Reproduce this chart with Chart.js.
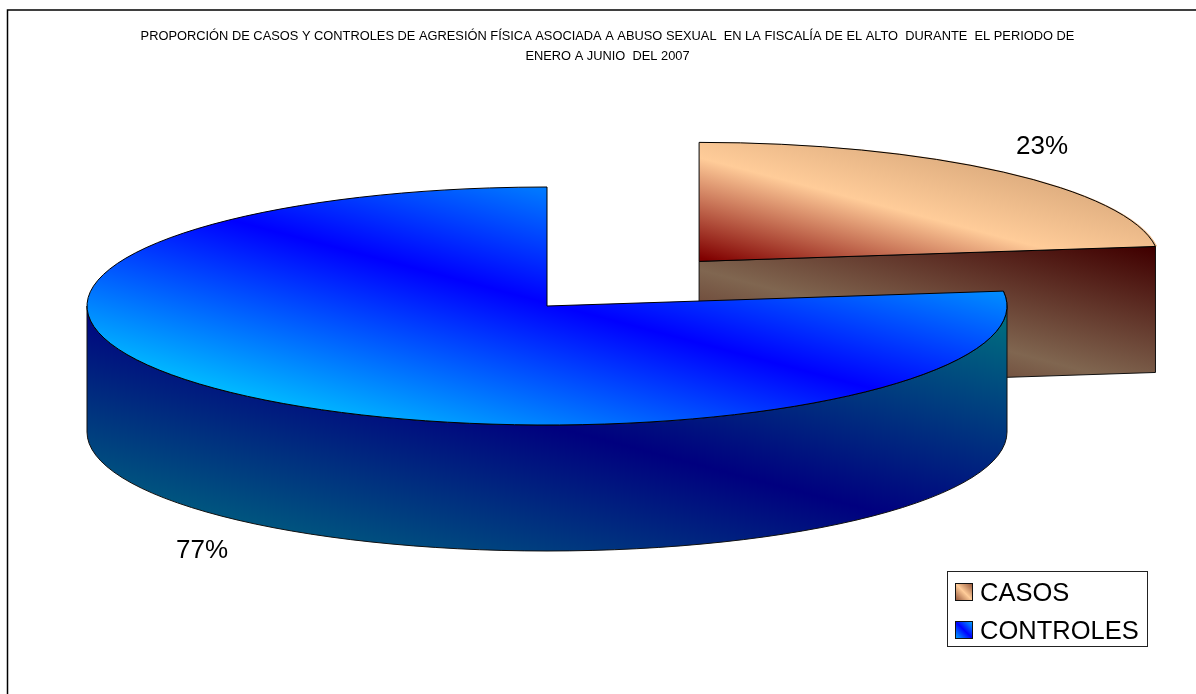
<!DOCTYPE html>
<html>
<head>
<meta charset="utf-8">
<title>Casos y controles</title>
<script src="https://cdn.jsdelivr.net/npm/chart.js@4/dist/chart.umd.min.js"></script>
<style>
    html, body { margin: 0; padding: 0; background: #fff; }
    canvas { display: block; }
</style>
</head>
<body>
<canvas id="chart" width="1196" height="694"></canvas>
<script>
// Datos
const categorias = ['CASOS', 'CONTROLES'];
const porcentajes = [23, 77];
const tituloLineas = [
    'PROPORCIÓN DE CASOS Y CONTROLES DE AGRESIÓN FÍSICA ASOCIADA A ABUSO SEXUAL  EN LA FISCALÍA DE EL ALTO  DURANTE  EL PERIODO DE',
    'ENERO A JUNIO  DEL 2007',
];

// Geometría de la torta en perspectiva
const RADIO = 460;
const APLASTADO = 119 / 460;
const CENTRO_X = 547;
const CENTRO_Y = 306;
const ALTURA = 126;
// Chart.js desplaza el sector offset / 4
const SEPARACION = 230 * 4;
const PENDIENTE = 0.263;
const FUENTE = '"Liberation Sans", Arial, sans-serif';

// Pasa de pantalla a las coordenadas de la torta antes de aplastarla
function aTorta(chart, x, y) {
    const a = chart.chartArea;
    return [
        x - CENTRO_X + (a.left + a.right) / 2,
        (y - CENTRO_Y) / APLASTADO + (a.top + a.bottom) / 2,
    ];
}

function aPantalla(chart, x, y) {
    const a = chart.chartArea;
    return [
        x + CENTRO_X - (a.left + a.right) / 2,
        (y - (a.top + a.bottom) / 2) * APLASTADO + CENTRO_Y,
    ];
}

// Degradado en bandas inclinadas: "eje" es un punto de la banda central en pantalla,
// "alcance" la distancia vertical desde ese punto hasta los extremos
function bandas(ctx, eje, alcance, arriba, centro, abajo, escala, mapa) {
    const s = PENDIENTE / escala;
    const n = 1 + s * s;
    const [x, y] = mapa(eje[0], eje[1]);
    const dx = (-s * alcance / escala) / n;
    const dy = (alcance / escala) / n;
    const g = ctx.createLinearGradient(x - dx, y - dy, x + dx, y + dy);
    g.addColorStop(0, arriba);
    g.addColorStop(0.5, centro);
    g.addColorStop(1, abajo);
    return g;
}

const sinMapa = (x, y) => [x, y];

function colorCara(context) {
    const chart = context.chart;
    if (!chart.chartArea) return '#ffcc99';
    // El relleno se aplica con el sector ya desplazado: el degradado va sin ese desplazamiento
    const mapa = (x, y) => aTorta(chart, x, y);
    if (context.dataIndex === 0) {
        const medio = -Math.PI / 2 + Math.PI * porcentajes[0] / 100;
        const d = SEPARACION / 4;
        const eje = [860 - Math.cos(medio) * d, 200 - Math.sin(medio) * d * APLASTADO];
        return bandas(chart.ctx, eje, 100, '#d0a074', '#ffcc99', '#800000', APLASTADO, mapa);
    }
    return bandas(chart.ctx, [543, 302], 220, '#00edff', '#0000ff', '#00edff', APLASTADO, mapa);
}

const torta3d = {
    id: 'torta3d',
    beforeDraw(chart) {
        const ctx = chart.ctx;
        ctx.save();
        ctx.fillStyle = '#fff';
        ctx.fillRect(0, 0, chart.width, chart.height);
        // Marco: solo arriba y a la izquierda
        ctx.strokeStyle = '#000';
        ctx.lineWidth = 1.5;
        ctx.beginPath();
        ctx.moveTo(7.5, chart.height);
        ctx.lineTo(7.5, 9.9);
        ctx.lineTo(chart.width, 9.9);
        ctx.stroke();
        ctx.restore();
    },
    beforeDatasetsDraw(chart) {
        const ctx = chart.ctx;
        const arcos = chart.getDatasetMeta(0).data;
        const a = chart.chartArea;
        const centros = arcos.map(arco => this.centro(chart, arco));

        // Cara del corte del sector separado
        const [cx0, cy0] = centros[0];
        const fin0 = arcos[0].endAngle;
        const bx = cx0 + RADIO * Math.cos(fin0);
        const by = cy0 + RADIO * APLASTADO * Math.sin(fin0);
        ctx.save();
        ctx.lineWidth = 1;
        ctx.strokeStyle = '#111';
        ctx.beginPath();
        ctx.moveTo(cx0, cy0);
        ctx.lineTo(bx, by);
        ctx.lineTo(bx, by + ALTURA);
        ctx.lineTo(cx0, cy0 + ALTURA);
        ctx.closePath();
        ctx.fillStyle = bandas(ctx, [860, 312], 140, '#400000', '#806650', '#400000', 1, sinMapa);
        ctx.fill();
        ctx.stroke();

        // Pared curva del sector grande
        const [cx1, cy1] = centros[1];
        const ini1 = arcos[1].startAngle;
        ctx.beginPath();
        ctx.ellipse(cx1, cy1, RADIO, RADIO * APLASTADO, 0, ini1, Math.PI);
        ctx.ellipse(cx1, cy1 + ALTURA, RADIO, RADIO * APLASTADO, 0, Math.PI, 0, true);
        ctx.lineTo(cx1 + RADIO, cy1);
        ctx.closePath();
        ctx.fillStyle = bandas(ctx, [543, 424], 240, '#00747f', '#00007f', '#00747f', 1, sinMapa);
        ctx.fill();
        ctx.stroke();
        ctx.restore();

        // Las caras superiores las dibuja la librería con el contexto aplastado
        ctx.save();
        ctx.translate(CENTRO_X, CENTRO_Y);
        ctx.scale(1, APLASTADO);
        ctx.translate(-(a.left + a.right) / 2, -(a.top + a.bottom) / 2);
    },
    afterDatasetsDraw(chart) {
        const ctx = chart.ctx;
        ctx.restore();
        const arcos = chart.getDatasetMeta(0).data;

        // Contorno de las caras superiores
        ctx.save();
        ctx.lineWidth = 1;
        ctx.strokeStyle = '#000';
        arcos.forEach(arco => {
            const [cx, cy] = this.centro(chart, arco);
            ctx.beginPath();
            ctx.moveTo(cx, cy);
            ctx.ellipse(cx, cy, RADIO, RADIO * APLASTADO, 0, arco.startAngle, arco.endAngle);
            ctx.closePath();
            ctx.stroke();
        });

        // Porcentajes
        ctx.fillStyle = '#000';
        ctx.font = '26px ' + FUENTE;
        ctx.textAlign = 'center';
        ctx.textBaseline = 'alphabetic';
        ctx.fillText(porcentajes[0] + '%', 1042, 154);
        ctx.fillText(porcentajes[1] + '%', 202, 558);

        // Leyenda
        ctx.fillStyle = '#fff';
        ctx.fillRect(947, 571, 201, 76);
        ctx.strokeStyle = '#222';
        ctx.strokeRect(947.5, 571.5, 200, 75);
        categorias.forEach((nombre, i) => {
            const y = 583 + i * 38;
            const g = ctx.createLinearGradient(955, y + 18, 973, y);
            if (i === 0) {
                g.addColorStop(0, '#8a4a30');
                g.addColorStop(0.5, '#ffcc99');
                g.addColorStop(1, '#8a4a30');
            } else {
                g.addColorStop(0, '#00b4ff');
                g.addColorStop(0.5, '#0000ff');
                g.addColorStop(1, '#00b4ff');
            }
            ctx.fillStyle = g;
            ctx.fillRect(955, y, 18, 17);
            ctx.strokeStyle = '#111';
            ctx.strokeRect(955.5, y + 0.5, 17, 17);
            ctx.fillStyle = '#000';
            ctx.textAlign = 'left';
            ctx.font = '25.5px ' + FUENTE;
            ctx.fillText(nombre, 980, y + 18);
        });
        ctx.restore();
    },
    // Centro de un sector en pantalla, contando su separación
    centro(chart, arco) {
        const medio = (arco.startAngle + arco.endAngle) / 2;
        const d = (arco.options.offset || 0) / 4;
        return aPantalla(chart, arco.x + Math.cos(medio) * d, arco.y + Math.sin(medio) * d);
    },
};

new Chart(document.getElementById('chart'), {
    type: 'pie',
    data: {
        labels: categorias,
        datasets: [{
            data: porcentajes,
            backgroundColor: colorCara,
            borderWidth: 0,
            offset: [SEPARACION, 0],
            radius: RADIO,
            cutout: '0%',
            clip: false,
        }],
    },
    options: {
        responsive: false,
        animation: false,
        layout: { padding: { left: 19 } },
        plugins: {
            legend: { display: false },
            tooltip: { enabled: false },
            title: {
                display: true,
                text: tituloLineas,
                color: '#000',
                padding: { top: 26, bottom: 0 },
                font: { family: FUENTE, size: 12.85, weight: 'normal', lineHeight: '20px' },
            },
        },
    },
    plugins: [torta3d],
});
</script>
</body>
</html>
